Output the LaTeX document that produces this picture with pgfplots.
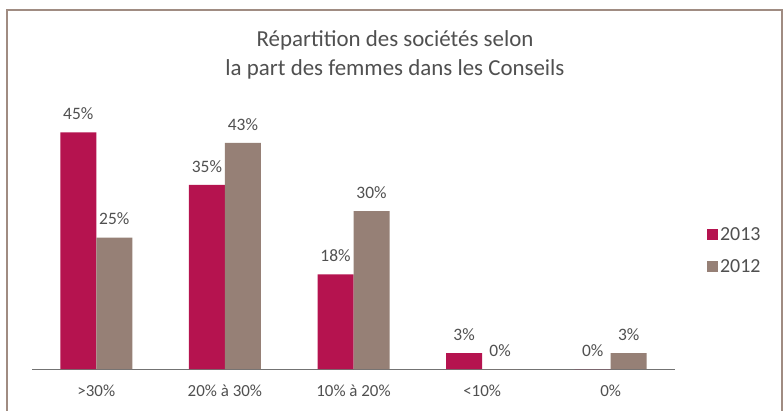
\documentclass[border=0pt]{standalone}
\usepackage{fontspec}
\setmainfont{Carlito}
\usepackage{pgfplots}
\pgfplotsset{compat=1.18}
\definecolor{c2013}{HTML}{B5134F}
\definecolor{c2012}{HTML}{968076}
\definecolor{txt}{HTML}{505050}
\definecolor{frame}{HTML}{A08C82}

\begin{document}
\begin{tikzpicture}[x=1bp,y=1bp]
\useasboundingbox (0,0) rectangle (784,410);
\fill[white] (0,0) rectangle (784,410);
\draw[frame,line width=1.5bp] (7,-5) rectangle (782,400);
\node[align=center,text=txt,font=\fontsize{23}{29}\selectfont] at (395,355)
  {Répartition des sociétés selon\\la part des femmes dans les Conseils};
\begin{axis}[
  at={(32bp,41bp)}, anchor=south west,
  scale only axis, width=643bp, height=263bp,
  ybar=0pt, bar width=36bp,
  xmin=-0.5, xmax=4.5, ymin=0, ymax=50,
  axis x line=bottom, axis y line=none,
  axis line style={draw=black!55, line width=0.8bp, -},
  xtick=data, xtick style={draw=none},
  xticklabels={>30\%, 20\% à 30\%, 10\% à 20\%, <10\%, 0\%},
  x tick label style={font=\fontsize{17}{20}\selectfont, text=txt, yshift=-10bp},
  /pgf/number format/assume math mode=true,
  nodes near coords={\pgfmathprintnumber{\pgfplotspointmeta}\%},
  nodes near coords style={font=\fontsize{17.5}{20}\selectfont, text=txt, yshift=9bp},
  legend style={at={(1.045,0.45)}, anchor=west, draw=none, fill=none,
    font=\fontsize{20}{24}\selectfont, text=txt, row sep=13bp,
    legend cell align=left},
  legend image code/.code={\fill[#1] (0bp,-5.5bp) rectangle (11bp,5.5bp);},
]
\addplot[fill=c2013, draw=none] coordinates {(0,45) (1,35) (2,18) (3,3) (4,0)};
\addplot[fill=c2012, draw=none] coordinates {(0,25) (1,43) (2,30) (3,0) (4,3)};
\legend{2013, 2012}
\end{axis}
\end{tikzpicture}
\end{document}
